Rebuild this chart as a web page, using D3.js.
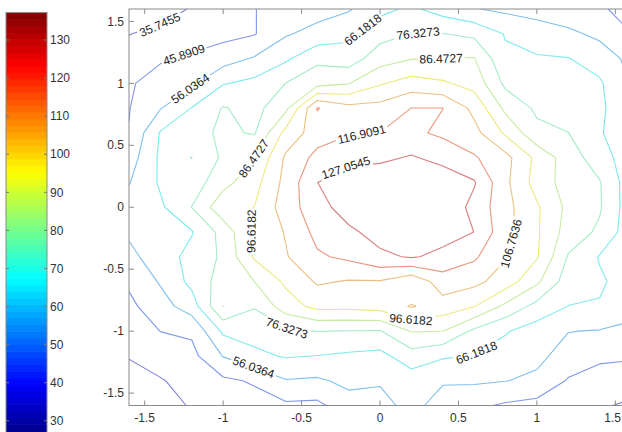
<!DOCTYPE html>
<html><head><meta charset="utf-8">
<script src="https://cdn.jsdelivr.net/npm/d3@7"></script>
<style>
html,body{margin:0;padding:0;background:#fff;}
svg{display:block;font-family:"Liberation Sans",Arial,Helvetica,sans-serif;}
</style></head><body>
<svg id="chart" width="622" height="432"></svg>
<script>
// ---------------- data ----------------
const xGrid = [-1.6,-1.4,-1.2,-1.0,-0.8,-0.6,-0.4,-0.2,0,0.2,0.4,0.6,0.8,1.0,1.2,1.4,1.6];
const yGrid = [1.6,1.4,1.2,1.0,0.8,0.6,0.4,0.2,0,-0.2,-0.4,-0.6,-0.8,-1.0,-1.2,-1.4,-1.6];
// z values, one row per yGrid entry (top to bottom), one column per xGrid entry
const zRows = [
 [30, 32, 36.4, 41, 45.7, 48.9, 52, 55.1, 63.5, 68, 61.8, 56.6, 53.9, 51.5, 49.1, 46.6, 44],
 [35.5, 38, 40.4, 42.8, 45.3, 55, 59.4, 63.7, 72.5, 76.5, 76.5, 74, 65.5, 62, 58.3, 53.6, 46],
 [40, 45, 47.7, 51.5, 57, 64.5, 74, 71, 82, 86, 86.5, 87, 68, 67, 66.5, 62, 53],
 [45, 49.2, 54, 65.5, 69, 76.5, 82.5, 86, 95.5, 101, 98, 93, 74, 71, 69, 67.5, 55.5],
 [45.5, 55.5, 66.5, 77, 73, 84, 117.5, 110, 110.5, 117, 117, 104, 84, 74.5, 71, 67.5, 61],
 [46.2, 67, 73, 78, 75.5, 100, 112, 116, 117, 119, 115, 110, 95, 79, 76.5, 67, 60],
 [51, 68, 66.1, 78, 86.5, 108.5, 120, 125, 125, 128, 124, 118, 110, 94, 81.4, 71, 60],
 [55.5, 67.5, 71, 83, 93, 110, 127, 131, 134, 135, 133, 128, 109, 92.5, 82, 77, 60],
 [60, 64.5, 76.5, 93.5, 96.8, 112, 123, 132, 136, 137.2, 135, 124, 110, 98, 84, 77.5, 60],
 [57.5, 62, 65.5, 80, 98.5, 107.5, 120, 125, 131, 133, 131, 127, 110, 98, 82, 74.5, 60],
 [53.5, 61, 69.5, 78, 98, 106, 115.5, 119, 125, 128, 124.5, 118.5, 107.5, 97.5, 75.5, 65.5, 62],
 [47.5, 57, 69, 81, 86.5, 98.5, 108, 106, 106, 99, 112, 109.5, 102, 88.5, 71, 67.5, 62],
 [43.5, 52, 61, 86.6, 77, 92, 99.5, 99.5, 101, 107.5, 102.5, 97, 84, 73, 66, 65.5, 60],
 [40, 46, 47.5, 68, 70, 74, 76.5, 76, 75.6, 87, 86.5, 74, 67, 61.5, 56.3, 55.5, 53.5],
 [36.3, 40.5, 43, 56.5, 64, 67, 66, 64.5, 63.2, 72, 67.5, 65.5, 62, 58.5, 52, 47.5, 47],
 [32, 35, 39.5, 44, 47, 55.5, 54.5, 58.5, 56.5, 61, 56.5, 57.5, 56.3, 54, 45, 42.5, 41],
 [27, 30, 37, 39, 42, 44, 43.5, 52, 54.5, 57.5, 54, 48, 44.5, 42.5, 40, 37, 34]
];
const levels = [35.7455, 45.8909, 56.0364, 66.1818, 76.3273, 86.4727, 96.6182, 106.7636, 116.9091, 127.0545];
const levelText = ["35.7455","45.8909","56.0364","66.1818","76.3273","86.4727","96.6182","106.7636","116.9091","127.0545"];
const colorMin = 25.6, colorMax = 137.2;
const xTicks = [-1.5,-1,-0.5,0,0.5,1,1.5];
const xTickText = ["-1.5","-1","-0.5","0","0.5","1","1.5"];
const yTicks = [-1.5,-1,-0.5,0,0.5,1,1.5];
const yTickText = ["-1.5","-1","-0.5","0","0.5","1","1.5"];
const cbTicks = [30,40,50,60,70,80,90,100,110,120,130];
// contour label anchors (level index, approximate data position)
const labelLevel = [0,1,2,3,4,5,5,8,9,6,7,6,4,2,3];
const labelX = [-1.396,-1.243,-1.211,-0.096,0.242,0.389,-0.816,-0.115,-0.172,-0.86,0.797,0.198,-0.593,-0.809,0.605];
const labelY = [1.444,1.202,0.961,1.412,1.364,1.21,0.405,0.558,0.211,-0.19,-0.28,-0.9,-0.965,-1.304,-1.151];

// ---------------- setup ----------------
const svg = d3.select("#chart");
const W = 622, H = 432;
const xScale = d3.scaleLinear().domain([-1.6,1.6]).range([129,631]);
const yScale = d3.scaleLinear().domain([-1.6,1.6]).range([405.5,9]);
const cbScale = d3.scaleLinear().domain([colorMin,colorMax]).range([437.5,12.6]);
const nColors = 64;
function jet(t){
  const f = v => Math.max(0, Math.min(1, v));
  return d3.rgb(255*f(Math.min(4*t-1.5, -4*t+4.5)), 255*f(Math.min(4*t-0.5, -4*t+3.5)), 255*f(Math.min(4*t+0.5, -4*t+2.5)));
}
function levelColor(v){
  let k = Math.floor((v-colorMin)/(colorMax-colorMin)*nColors);
  k = Math.max(0, Math.min(nColors-1, k));
  return d3.interpolateRgb(jet((k+0.5)/nColors), "#999999")(0.3);
}

// ---------------- colorbar ----------------
const cbX0 = 6, cbX1 = 47;
const cb = svg.append("g");
const step = (colorMax-colorMin)/nColors;
for (let k=0;k<nColors;k++){
  const v0 = colorMin + k*step, v1 = v0 + step;
  cb.append("rect").attr("x",cbX0).attr("width",cbX1-cbX0)
    .attr("y",cbScale(v1)).attr("height",cbScale(v0)-cbScale(v1)+0.6)
    .attr("fill",jet((k+0.5)/nColors));
}
cb.append("rect").attr("x",cbX0).attr("y",cbScale(colorMax)).attr("width",cbX1-cbX0)
  .attr("height",cbScale(colorMin)-cbScale(colorMax)).attr("fill","none").attr("stroke","#8a8a8a").attr("stroke-width",1);
cbTicks.forEach(t=>{
  const yy = cbScale(t);
  cb.append("line").attr("x1",cbX0).attr("x2",cbX0+3).attr("y1",yy).attr("y2",yy).attr("stroke","#777");
  cb.append("line").attr("x1",cbX1-3).attr("x2",cbX1).attr("y1",yy).attr("y2",yy).attr("stroke","#777");
  cb.append("text").attr("x",cbX1+3).attr("y",yy).attr("dy","0.35em").attr("font-size",12).attr("fill","#333").text(t);
});

// ---------------- contours ----------------
const nx = xGrid.length, ny = yGrid.length;
const values = zRows.flat();
const contourSets = d3.contours().size([nx, ny]).thresholds(levels)(values);
const g2x = d3.scaleLinear().domain([0.5, nx-0.5]).range([xGrid[0], xGrid[nx-1]]);
const g2y = d3.scaleLinear().domain([0.5, ny-0.5]).range([yGrid[0], yGrid[ny-1]]);
const eps = 1e-6;
const inside = p => p[0] >= 0.5-eps && p[0] <= nx-0.5+eps && p[1] >= 0.5-eps && p[1] <= ny-0.5+eps;
function ringToLines(ring){
  const pts = ring.slice(0,-1);
  const n = pts.length;
  const flags = pts.map(inside);
  if (flags.every(f=>f)) return [pts.concat([pts[0]])];
  const start = flags.indexOf(false);
  const lines = []; let cur = [];
  for (let k=1;k<=n;k++){
    const idx = (start+k)%n;
    if (flags[idx]) cur.push(pts[idx]);
    else { if (cur.length>1) lines.push(cur); cur = []; }
  }
  if (cur.length>1) lines.push(cur);
  return lines;
}
const levelLines = contourSets.map(c => {
  const out = [];
  c.coordinates.forEach(poly => poly.forEach(ring => {
    ringToLines(ring).forEach(l => out.push(l.map(p => [xScale(g2x(p[0])), yScale(g2y(p[1]))])));
  }));
  return out;
});

// label placement
const labelsInfo = [];
const measureG = svg.append("g").attr("opacity",0);
labelLevel.forEach((lv,i)=>{
  const ax = xScale(labelX[i]), ay = yScale(labelY[i]);
  let best = null;
  levelLines[lv].forEach((line,li)=>{
    for (let k=0;k<line.length-1;k++){
      const a=line[k], b=line[k+1];
      const dx=b[0]-a[0], dy=b[1]-a[1];
      const L2 = dx*dx+dy*dy || 1e-9;
      let t = ((ax-a[0])*dx+(ay-a[1])*dy)/L2; t=Math.max(0,Math.min(1,t));
      const px=a[0]+t*dx, py=a[1]+t*dy;
      const d=(px-ax)**2+(py-ay)**2;
      if (!best || d<best.d) best={d,li,k,t,px,py};
    }
  });
  if (!best) return;
  const line = levelLines[lv][best.li];
  const cum=[0];
  for (let k=1;k<line.length;k++) cum.push(cum[k-1]+Math.hypot(line[k][0]-line[k-1][0], line[k][1]-line[k-1][1]));
  const s0 = cum[best.k] + best.t*(cum[best.k+1]-cum[best.k]);
  function at(s){
    s=Math.max(0,Math.min(cum[cum.length-1],s));
    let k=0; while(k<cum.length-2 && cum[k+1]<s) k++;
    const seg=cum[k+1]-cum[k]||1e-9; const t=(s-cum[k])/seg;
    return [line[k][0]+t*(line[k+1][0]-line[k][0]), line[k][1]+t*(line[k+1][1]-line[k][1])];
  }
  const tx = measureG.append("text").attr("font-size",12).text(levelText[lv]);
  const w = tx.node().getComputedTextLength();
  const p1 = at(s0-w/2), p2 = at(s0+w/2);
  let ang = Math.atan2(p2[1]-p1[1], p2[0]-p1[0])*180/Math.PI;
  if (ang > 90) ang -= 180;
  if (ang <= -90) ang += 180;
  labelsInfo.push({lv, x:best.px, y:best.py, ang, w});
});
measureG.remove();

const defs = svg.append("defs");
defs.append("clipPath").attr("id","plotclip").append("rect")
  .attr("x",xScale(-1.6)).attr("y",yScale(1.6)).attr("width",xScale(1.6)-xScale(-1.6)).attr("height",yScale(-1.6)-yScale(1.6));
levels.forEach((lv,i)=>{
  const m = defs.append("mask").attr("id","mk"+i).attr("maskUnits","userSpaceOnUse")
    .attr("x",0).attr("y",0).attr("width",W).attr("height",H);
  m.append("rect").attr("x",0).attr("y",0).attr("width",W).attr("height",H).attr("fill","#fff");
  labelsInfo.filter(d=>d.lv===i).forEach(d=>{
    m.append("rect").attr("x",-d.w/2-2).attr("y",-5.5).attr("width",d.w+4).attr("height",11)
      .attr("transform",`translate(${d.x},${d.y}) rotate(${d.ang})`).attr("fill","#000");
  });
});

const lineGen = d3.line();
const cg = svg.append("g").attr("clip-path","url(#plotclip)");
levelLines.forEach((lines,i)=>{
  const col = levelColor(levels[i]);
  const gg = cg.append("g").attr("mask",`url(#mk${i})`);
  lines.forEach(l=>{
    gg.append("path").attr("d",lineGen(l)).attr("fill","none")
      .attr("stroke",col).attr("stroke-opacity",0.62).attr("stroke-width",1.1).attr("stroke-linejoin","round");
  });
});
const lg = svg.append("g");
labelsInfo.forEach(d=>{
  lg.append("text").attr("transform",`translate(${d.x},${d.y}) rotate(${d.ang})`)
    .attr("text-anchor","middle").attr("dy","0.35em").attr("font-size",12).attr("fill","#222")
    .text(levelText[d.lv]);
});

// ---------------- axes ----------------
const ax = svg.append("g");
const x0 = xScale(-1.6), x1 = xScale(1.6), y0 = yScale(-1.6), y1 = yScale(1.6);
ax.append("rect").attr("x",x0).attr("y",y1).attr("width",x1-x0).attr("height",y0-y1)
  .attr("fill","none").attr("stroke","#8a8a8a").attr("stroke-width",1);
const tl = 5;
xTicks.forEach((t,i)=>{
  const xx = xScale(t);
  ax.append("line").attr("x1",xx).attr("x2",xx).attr("y1",y0).attr("y2",y0-tl).attr("stroke","#8a8a8a");
  ax.append("line").attr("x1",xx).attr("x2",xx).attr("y1",y1).attr("y2",y1+tl).attr("stroke","#8a8a8a");
  const lab = ax.append("text").attr("x",xx).attr("y",y0+16).attr("text-anchor","middle").attr("font-size",12).attr("fill","#333").text(xTickText[i]);
  if (xx + 9 > W) lab.attr("x", W - 1).attr("text-anchor","end");
});
yTicks.forEach((t,i)=>{
  const yy = yScale(t);
  ax.append("line").attr("x1",x0).attr("x2",x0+tl).attr("y1",yy).attr("y2",yy).attr("stroke","#8a8a8a");
  ax.append("line").attr("x1",x1).attr("x2",x1-tl).attr("y1",yy).attr("y2",yy).attr("stroke","#8a8a8a");
  ax.append("text").attr("x",x0-5).attr("y",yy).attr("dy","0.35em").attr("text-anchor","end").attr("font-size",12).attr("fill","#333").text(yTickText[i]);
});
</script>
</body></html>
